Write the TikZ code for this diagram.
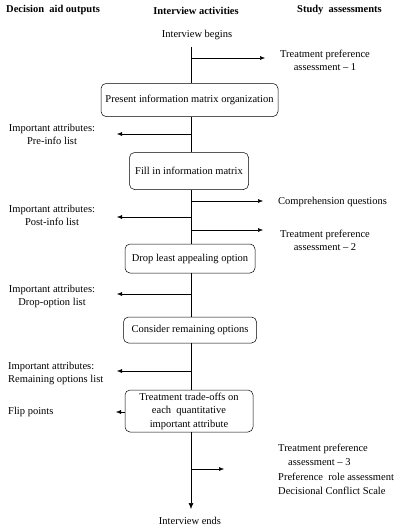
\documentclass[tikz,border=0pt]{standalone}
\usepackage{fontspec}
\setmainfont{Liberation Serif}
\usetikzlibrary{arrows.meta}
\begin{document}
\begin{tikzpicture}[x=1pt,y=-1pt,
  txt/.style={font=\fontsize{10.5}{12}\selectfont, inner sep=0pt},
  hdr/.style={font=\fontsize{10.5}{12}\selectfont\bfseries, inner sep=0pt},
  box/.style={draw, rounded corners=5pt, font=\fontsize{10.5}{12}\selectfont, align=center, inner sep=0pt, line width=0.5pt},
  flow/.style={line width=0.6pt},
  arr/.style={line width=0.5pt, -{Latex[length=5pt,width=4pt]}},
  side/.style={font=\fontsize{10.5}{13}\selectfont, align=center, inner sep=0pt}
]
\useasboundingbox (0,0) rectangle (400,527);
% headers
\node[hdr, anchor=west] (h1) at (6,10) {Decision\ \ aid outputs};
\node[hdr] (h2) at (196,11) {Interview activities};
\node[hdr, anchor=west] (h3) at (297,10) {Study\ \ assessments};

\node[txt] (begin) at (197,35) {Interview begins};
\coordinate (top) at (191,47);
\coordinate (a1) at (191,58);

\node[box, minimum width=177pt, minimum height=33pt] (b1) at (189.5,100) {Present information matrix organization};
\node[box, minimum width=119pt, minimum height=37pt] (b2) at (189,171) {Fill in information matrix};
\node[box, minimum width=130pt, minimum height=29pt] (b3) at (190,258.5) {Drop least appealing option};
\node[box, minimum width=133pt, minimum height=26pt] (b4) at (190,330) {Consider remaining options};
\node[box, minimum width=128pt, minimum height=42pt, font=\fontsize{10.5}{13.5}\selectfont] (b5) at (189,411) {Treatment trade-offs on\\each\ \ quantitative\\important attribute};

\coordinate (ab) at (191,134);
\coordinate (ac) at (191,201);
\coordinate (ad) at (191,217);
\coordinate (ae) at (191,230);
\coordinate (af) at (191,294);
\coordinate (ag) at (191,371);
\coordinate (ah) at (191,469);
\coordinate (bot) at (191,509);
\node[txt] (end) at (190,521) {Interview ends};

% main flow
\draw[flow] (top) -- (b1.north -| top);
\draw[flow] (b1.south -| top) -- (b2.north -| top);
\draw[flow] (b2.south -| top) -- (b3.north -| top);
\draw[flow] (b3.south -| top) -- (b4.north -| top);
\draw[flow] (b4.south -| top) -- (b5.north -| top);
\draw[flow, -{Latex[length=6pt,width=5pt]}] (b5.south -| top) -- (bot);

% right side
\coordinate (r1) at (265,58);
\node[side] (t1) at (325,60) {Treatment preference\\assessment -- 1};
\draw[arr] (a1) -- (r1);

\coordinate (r2) at (263,201);
\node[txt, anchor=west] (t2) at (278,202) {Comprehension questions};
\draw[arr] (ac) -- (r2);

\coordinate (r3) at (263,230);
\node[side] (t3) at (325,240) {Treatment preference\\assessment -- 2};
\draw[arr] (ae) -- (r3);

\coordinate (r4) at (224,469);
\node[side, align=left, anchor=north west, font=\fontsize{10.5}{14.3}\selectfont] (t4) at (278,444) {Treatment preference\\\hspace*{10pt}assessment -- 3\\Preference\ \ role assessment\\Decisional Conflict Scale};
\draw[arr] (ah) -- (r4);

% left side
\coordinate (l1) at (117,134);
\node[side] (o1) at (52,134) {Important attributes:\\Pre-info list};
\draw[arr] (ab) -- (l1);

\coordinate (l2) at (117,217);
\node[side] (o2) at (52,215) {Important attributes:\\Post-info list};
\draw[arr] (ad) -- (l2);

\coordinate (l3) at (117,294);
\node[side] (o3) at (52,296) {Important attributes:\\Drop-option list};
\draw[arr] (af) -- (l3);

\coordinate (l4) at (117,371);
\node[side, align=left, anchor=west] (o4) at (8,373) {Important attributes:\\Remaining options list};
\draw[arr] (ag) -- (l4);

\coordinate (l5) at (116,412);
\node[txt, anchor=west] (o5) at (8,412) {Flip points};
\draw[arr] (b5.west |- l5) -- (l5);
\end{tikzpicture}
\end{document}
